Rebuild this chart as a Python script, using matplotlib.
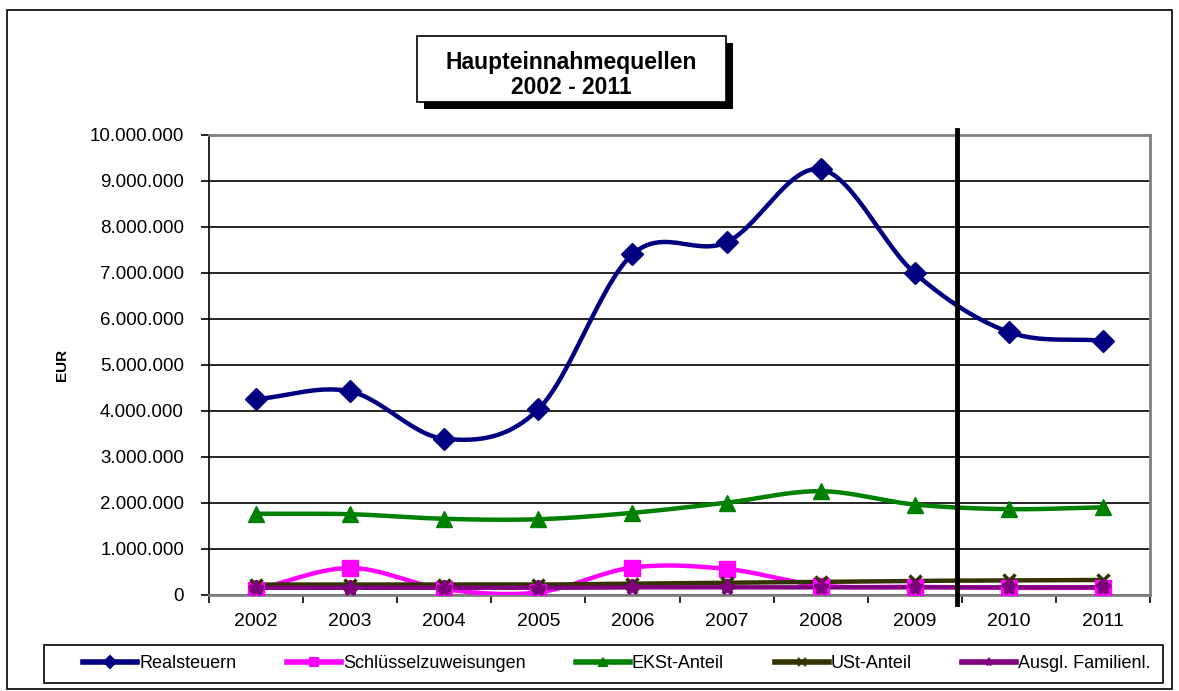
import numpy as np
import matplotlib.pyplot as plt
from matplotlib.patches import Rectangle
from matplotlib.ticker import FuncFormatter

plt.rcParams['font.family'] = ['Liberation Sans', 'DejaVu Sans']

years = ['2002', '2003', '2004', '2005', '2006', '2007', '2008', '2009', '2010', '2011']
realsteuern = [4250000, 4420000, 3390000, 4030000, 7400000, 7660000, 9250000, 6990000, 5710000, 5520000]
schluessel = [110000, 580000, 120000, 50000, 590000, 560000, 200000, 170000, 150000, 150000]
ekst = [1760000, 1750000, 1650000, 1640000, 1780000, 2000000, 2250000, 1960000, 1860000, 1900000]
ust = [220000, 220000, 220000, 220000, 240000, 260000, 280000, 300000, 310000, 320000]
ausgl = [150000, 150000, 150000, 150000, 160000, 160000, 160000, 160000, 160000, 160000]

series = [
    ('Realsteuern', realsteuern, '#000080', 'D', 11),
    ('Schlüsselzuweisungen', schluessel, '#FF00FF', 's', 11),
    ('EKSt-Anteil', ekst, '#008000', '^', 12),
    ('USt-Anteil', ust, '#333300', 'x', 8),
    ('Ausgl. Familienl.', ausgl, '#800080', '*', 11),
]


def smooth(x, y, n=30):
    # catmull-rom curve through the points, like excel's smoothed lines
    x = np.asarray(x, float)
    y = np.asarray(y, float)
    px = np.concatenate([[2 * x[0] - x[1]], x, [2 * x[-1] - x[-2]]])
    py = np.concatenate([[2 * y[0] - y[1]], y, [2 * y[-1] - y[-2]]])
    xs, ys = [], []
    t = np.linspace(0, 1, n)
    for i in range(1, len(px) - 2):
        for p, out in ((px, xs), (py, ys)):
            p0, p1, p2, p3 = p[i - 1], p[i], p[i + 1], p[i + 2]
            out.extend(0.5 * (2 * p1 + (-p0 + p2) * t + (2 * p0 - 5 * p1 + 4 * p2 - p3) * t ** 2
                              + (-p0 + 3 * p1 - 3 * p2 + p3) * t ** 3))
    return xs, ys


fig = plt.figure(figsize=(11.79, 6.91), dpi=100)
ax = fig.add_axes([209 / 1179, 1 - 594.7 / 691, 941 / 1179, 460 / 691])

xpos = np.arange(len(years))
handles = []
for name, vals, col, mk, ms in series:
    sx, sy = smooth(xpos, vals)
    ax.plot(sx, sy, color=col, lw=3.2, zorder=3)
    mew = 2.5 if mk in ('x', '*') else 1
    ax.plot(xpos, vals, ls='none', marker=mk, ms=ms, color=col, mec=col, mew=mew, zorder=4)
    h, = ax.plot([], [], color=col, lw=4, marker=mk, ms=6, mew=1.5)
    handles.append(h)

ax.set_xlim(-0.5, 9.5)
ax.set_ylim(0, 10000000)
ax.set_yticks(np.arange(0, 10000001, 1000000))
ax.yaxis.set_major_formatter(FuncFormatter(lambda v, p: f'{int(v):,}'.replace(',', '.')))
ax.set_xticks(xpos)
ax.set_xticklabels(years)
ax.set_xticks(np.arange(-0.5, 9.6, 1), minor=True)
ax.tick_params(axis='x', which='major', length=0, labelsize=14, pad=13)
ax.tick_params(axis='x', which='minor', length=6, width=1.2, direction='out')
ax.tick_params(axis='y', length=6, width=1.2, direction='out', labelsize=13.5, pad=12)
ax.grid(axis='y', color='black', lw=1.2, zorder=1)
for s in ['top', 'right', 'bottom']:
    ax.spines[s].set_color('#808080')
    ax.spines[s].set_linewidth(2)
ax.spines['left'].set_color('black')
ax.spines['left'].set_linewidth(1.2)
ax.set_ylabel('EUR', fontsize=11, fontweight='bold')
ax.yaxis.set_label_coords((69 - 209) / 941, 0.5)

# vertical separator between 2009 and 2010
ax.axvline(7.45, ymin=-0.02, ymax=1.01, color='black', lw=3.5, zorder=5, clip_on=False)

# title box with shadow
fig.patches.append(Rectangle((424 / 1179, 1 - 109 / 691), 309 / 1179, 66 / 691,
                             transform=fig.transFigure, facecolor='black', edgecolor='none'))
fig.patches.append(Rectangle((417 / 1179, 1 - 102 / 691), 309 / 1179, 66 / 691,
                             transform=fig.transFigure, facecolor='white', edgecolor='black', lw=1.2))
fig.text(571.5 / 1179, 1 - 75 / 691, 'Haupteinnahmequellen\n2002 - 2011', ha='center', va='center',
         fontsize=16.5, fontweight='bold', linespacing=1.15)

# outer frame
fig.patches.append(Rectangle((7 / 1179, 2 / 691), 1165 / 1179, 679 / 691,
                             transform=fig.transFigure, facecolor='none', edgecolor='black', lw=1.2))

# legend box drawn separately so its size matches
fig.patches.append(Rectangle((44 / 1179, 1 - 683 / 691), 1119 / 1179, 38 / 691,
                             transform=fig.transFigure, facecolor='white', edgecolor='black', lw=1.2))
leg = fig.legend(handles, [s[0] for s in series], loc='center', ncol=5,
                 bbox_to_anchor=(617 / 1179, 1 - 664 / 691), frameon=False,
                 fontsize=13, handlelength=3.0, columnspacing=2.8,
                 handletextpad=0.1, borderpad=0.3, borderaxespad=0)

fig.savefig('out.png', dpi=100)
